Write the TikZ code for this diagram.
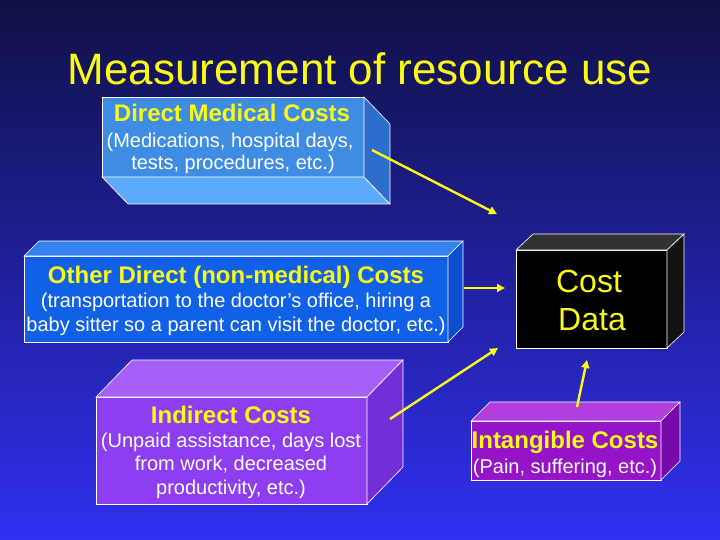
\documentclass[tikz,border=0pt]{standalone}
\usepackage{fontspec}
\setmainfont{Liberation Sans}
\usetikzlibrary{arrows.meta}

\definecolor{bgtop}{RGB}{16,16,70}
\definecolor{bgbot}{RGB}{48,48,240}
\definecolor{medfront}{RGB}{62,140,228}
\definecolor{medbot}{RGB}{92,170,250}
\definecolor{medside}{RGB}{45,110,205}
\definecolor{othfront}{RGB}{16,96,232}
\definecolor{othtop}{RGB}{52,130,240}
\definecolor{othside}{RGB}{12,78,205}
\definecolor{indfront}{RGB}{140,62,240}
\definecolor{indtop}{RGB}{165,96,250}
\definecolor{indside}{RGB}{115,46,215}
\definecolor{costtop}{RGB}{50,50,50}
\definecolor{costside}{RGB}{18,18,18}
\definecolor{intfront}{RGB}{150,20,200}
\definecolor{inttop}{RGB}{178,62,222}
\definecolor{intside}{RGB}{120,10,172}
\definecolor{txtyel}{RGB}{250,250,20}

\begin{document}
\begin{tikzpicture}[x=1pt,y=-1pt,
	boxface/.style={draw=white,line width=0.6pt,inner sep=0pt,outer sep=0pt},
	head/.style={anchor=base,inner sep=0pt,text=txtyel,font=\fontsize{24}{28}\selectfont\bfseries},
	body/.style={anchor=base,inner sep=0pt,text=white,font=\fontsize{20}{24}\selectfont},
	bigtxt/.style={anchor=base,inner sep=0pt,text=txtyel,font=\fontsize{32}{38}\selectfont},
	arr/.style={draw=txtyel,line width=2.4pt,-{Triangle[length=8pt,width=8pt]}}]
				\shade[top color=bgtop,bottom color=bgbot] (0,0) rectangle (720,540);
				\useasboundingbox (0,0) rectangle (720,540);
				\node[font=\fontsize{44}{50}\selectfont,text=txtyel,anchor=base,inner sep=0pt] (title) at (360,85) {Measurement of resource use};
				% boxes: front faces
				\node[boxface,fill=medfront,minimum width=262pt,minimum height=80pt] (med) at (233,137) {};
				\filldraw[boxface,fill=medbot] (med.south west) -- ++(26,27) -- ++(262,0) -- (med.south east) -- cycle;
				\filldraw[boxface,fill=medside] (med.north east) -- ++(26,27) -- ++(0,80) -- (med.south east) -- cycle;
				\node[boxface,fill=othfront,minimum width=424pt,minimum height=86pt] (oth) at (236,299) {};
				\filldraw[boxface,fill=othtop] (oth.north west) -- ++(15,-15) -- ++(424,0) -- (oth.north east) -- cycle;
				\filldraw[boxface,fill=othside] (oth.north east) -- ++(15,-15) -- ++(0,86) -- (oth.south east) -- cycle;
				\node[boxface,fill=indfront,minimum width=271pt,minimum height=107pt] (ind) at (231.5,450.5) {};
				\filldraw[boxface,fill=indtop] (ind.north west) -- ++(36,-37) -- ++(271,0) -- (ind.north east) -- cycle;
				\filldraw[boxface,fill=indside] (ind.north east) -- ++(36,-37) -- ++(0,107) -- (ind.south east) -- cycle;
				\node[boxface,fill=black,minimum width=151pt,minimum height=98pt] (cost) at (591.5,299) {};
				\filldraw[boxface,fill=costtop] (cost.north west) -- ++(17,-16) -- ++(151,0) -- (cost.north east) -- cycle;
				\filldraw[boxface,fill=costside] (cost.north east) -- ++(17,-16) -- ++(0,98) -- (cost.south east) -- cycle;
				\node[boxface,fill=intfront,minimum width=190pt,minimum height=59pt] (intg) at (566,450.5) {};
				\filldraw[boxface,fill=inttop] (intg.north west) -- ++(19,-19) -- ++(190,0) -- (intg.north east) -- cycle;
				\filldraw[boxface,fill=intside] (intg.north east) -- ++(19,-19) -- ++(0,59) -- (intg.south east) -- cycle;
				% texts
				\node[head] (medA) at (232,121.7) {Direct Medical Costs};
				\node[body] (medB) at (230,147.5) {(Medications, hospital days,};
				\node[body] (medC) at (233,170) {tests, procedures, etc.)};
				\node[head] (othA) at (236,283) {Other Direct (non-medical) Costs};
				\node[body] (othB) at (236,307) {(transportation to the doctor’s office, hiring a};
				\node[body] (othC) at (236,331) {baby sitter so a parent can visit the doctor, etc.)};
				\node[head] (indA) at (231,423) {Indirect Costs};
				\node[body] (indB) at (231,447) {(Unpaid assistance, days lost};
				\node[body] (indC) at (231,470.5) {from work, decreased};
				\node[body] (indD) at (231,494) {productivity, etc.)};
				\node[bigtxt] (costA) at (589,292) {Cost};
				\node[bigtxt] (costB) at (592,330) {Data};
				\node[head] (intA) at (565,448) {Intangible Costs};
				\node[body] (intB) at (565,473) {(Pain, suffering, etc.)};
				% arrows
				\coordinate (p1) at (372,150);
				\coordinate (q1) at (497,214);
				\coordinate (p2) at (464,288);
				\coordinate (q2) at (505,288);
				\coordinate (p3) at (390,419);
				\coordinate (q3) at (498,348);
				\coordinate (p4) at (577,407);
				\coordinate (q4) at (587,360);
				\draw[arr] (p1) -- (q1);
				\draw[arr] (p2) -- (q2);
				\draw[arr] (p3) -- (q3);
				\draw[arr] (p4) -- (q4);
\end{tikzpicture}
\end{document}
